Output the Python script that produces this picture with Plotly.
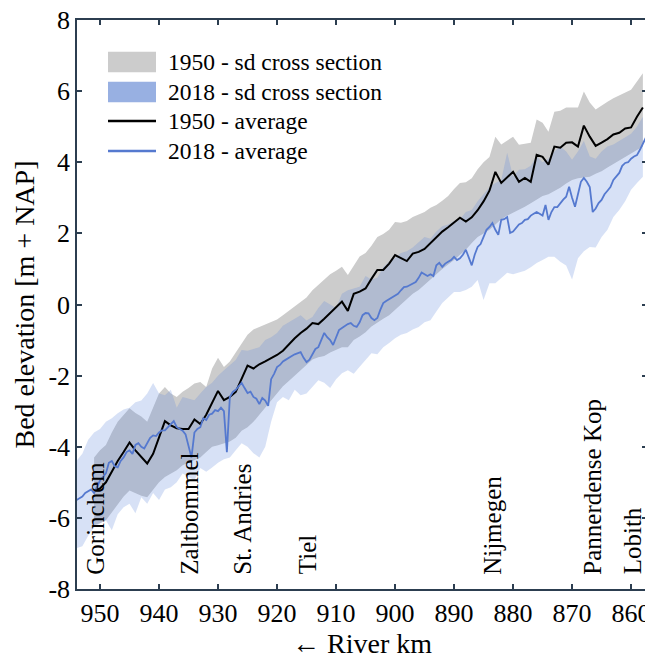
import plotly.graph_objects as go

# ---------------- data ----------------
# 1950 survey, 1 km stations from km 951 down to km 858
KM_1950 = list(range(951, 857, -1))
MEAN_1950 = [
    -5.25, -5.17, -5.0, -4.7, -4.4, -4.15, -3.88, -4.1, -4.3, -4.47,
    -4.2, -3.75, -3.28, -3.4, -3.48, -3.5, -3.5, -3.23, -3.36, -3.1,
    -2.75, -2.43, -2.69, -2.6, -2.46, -2.1, -1.72, -1.8, -1.68, -1.6,
    -1.52, -1.42, -1.3, -1.12, -0.95, -0.8, -0.68, -0.52, -0.55, -0.4,
    -0.24, -0.1, 0.08, -0.18, 0.3, 0.36, 0.45, 0.72, 0.97, 0.97,
    1.15, 1.39, 1.3, 1.22, 1.43, 1.48, 1.56, 1.72, 1.9, 2.05,
    2.17, 2.3, 2.44, 2.33, 2.45, 2.65, 2.9, 3.2, 3.73, 3.42,
    3.58, 3.73, 3.45, 3.56, 3.45, 4.21, 4.15, 3.93, 4.44, 4.41,
    4.55, 4.56, 4.44, 5.03, 4.72, 4.46, 4.55, 4.65, 4.78, 4.83,
    4.95, 4.98, 5.28, 5.54,
]
UPPER_1950 = [
    -4.3, -4.1, -3.95, -3.6, -3.3, -3.1, -2.92, -3.05, -3.15, -3.3,
    -2.9, -2.5, -2.32, -2.5, -2.6, -2.45, -2.35, -2.22, -2.18, -2.32,
    -1.8, -1.5, -1.76, -1.6, -1.35, -1.1, -0.85, -0.7, -0.63, -0.55,
    -0.48, -0.42, -0.3, -0.18, -0.05, 0.08, 0.2, 0.4, 0.55, 0.72,
    0.85, 0.95, 1.06, 0.83, 1.1, 1.35, 1.45, 1.65, 1.9, 1.98,
    2.1, 2.32, 2.3, 2.35, 2.46, 2.52, 2.6, 2.72, 2.8, 2.92,
    3.05, 3.25, 3.42, 3.44, 3.55, 3.8, 4.0, 4.15, 4.72, 4.5,
    4.6, 4.72, 4.49, 4.52, 4.55, 5.2, 5.11, 4.86, 5.42, 5.45,
    5.54, 5.54, 5.54, 5.99, 5.68, 5.48, 5.6, 5.7, 5.8, 5.88,
    5.98, 6.04, 6.27, 6.5,
]
LOWER_1950 = [
    -6.2, -6.15, -6.07, -5.85, -5.6, -5.4, -5.23, -5.3, -5.38, -5.42,
    -5.2, -5.0, -4.85, -4.75, -4.66, -4.52, -4.45, -4.38, -4.3, -4.15,
    -4.0, -3.96, -3.9, -3.85, -3.75, -3.55, -3.45, -3.3, -3.1, -2.9,
    -2.7, -2.5, -2.3, -2.15, -2.0, -1.85, -1.7, -1.55, -1.48, -1.45,
    -1.35, -1.28, -1.2, -1.2, -1.0, -0.9, -0.78, -0.62, -0.5, -0.4,
    -0.3, -0.15, 0.0, 0.13, 0.3, 0.41, 0.55, 0.7, 0.85, 1.0,
    1.12, 1.25, 1.4, 1.54, 1.73, 1.9, 2.0, 2.1, 2.25, 2.4,
    2.5, 2.58, 2.65, 2.75, 2.85, 2.94, 3.05, 3.1, 3.18, 3.28,
    3.4, 3.5, 3.55, 3.57, 3.59, 3.68, 3.75, 3.85, 3.95, 4.05,
    4.15, 4.25, 4.35, 4.44,
]

# 2018 survey average, 0.5 km stations from km 954 down to km 857.5
KM_2018 = [954 - 0.5 * i for i in range(194)]
MEAN_2018 = [
    -5.5, -5.45, -5.4, -5.3, -5.25, -5.2, -5.3, -5.1, -4.95, -4.85,
    -4.75, -4.45, -4.4, -4.55, -4.58, -4.4, -4.3, -4.15, -4.1, -4.2,
    -3.95, -3.9, -4.0, -4.05, -3.9, -3.75, -3.68, -3.7, -3.6, -3.54,
    -3.54, -3.45, -3.35, -3.28, -3.45, -3.5, -3.55, -3.65, -4.0, -4.3,
    -3.6, -3.5, -3.45, -3.2, -3.25, -3.1, -3.07, -2.97, -3.0, -2.9,
    -3.0, -4.15, -2.6, -2.46, -2.4, -2.3, -2.2, -2.35, -2.49, -2.45,
    -2.6, -2.65, -2.8, -2.63, -2.7, -2.85, -2.1, -1.95, -1.76, -1.7,
    -1.6, -1.55, -1.51, -1.45, -1.4, -1.37, -1.34, -1.5, -1.62, -1.55,
    -1.4, -1.25, -1.2, -1.0, -0.8, -0.92, -1.0, -1.14, -0.9, -0.72,
    -0.66, -0.6, -0.55, -0.52, -0.6, -0.63, -0.5, -0.3, -0.24, -0.25,
    -0.38, -0.44, -0.38, -0.15, 0.04, 0.1, 0.15, 0.22, 0.27, 0.3,
    0.4, 0.49, 0.5, 0.55, 0.6, 0.63, 0.75, 0.9, 0.85, 0.8,
    0.85, 0.8, 1.1, 1.17, 1.06, 1.15, 1.2, 1.25, 1.34, 1.25,
    1.3, 1.4, 1.54, 1.3, 1.1, 1.4, 1.62, 1.7, 1.9, 2.1,
    2.18, 2.29, 2.1, 1.96, 2.38, 2.4, 2.46, 2.01, 2.05, 2.15,
    2.25, 2.29, 2.38, 2.4, 2.5, 2.55, 2.6, 2.55, 2.5, 2.8,
    2.38, 2.6, 2.74, 2.74, 2.85, 2.95, 3.03, 3.31, 3.0, 2.75,
    3.1, 3.45, 3.56, 3.45, 3.3, 2.6, 2.7, 2.85, 2.94, 3.1,
    3.2, 3.3, 3.5, 3.59, 3.7, 3.9, 3.98, 4.0, 4.1, 4.16,
    4.2, 4.35, 4.5, 4.69,
]

# 2018 sd band, 1 km stations from km 954 down to km 858
KM_2018_SD = list(range(954, 857, -1))
UPPER_2018 = [
    -4.4, -4.2, -3.8, -3.6, -3.5, -3.3, -3.2, -3.06, -2.95, -2.9,
    -2.75, -2.7, -2.5, -2.21, -2.5, -2.55, -2.4, -2.9, -2.6, -2.65,
    -2.69, -2.5, -2.32, -2.2, -2.0, -1.85, -1.7, -1.56, -1.28, -1.3,
    -1.25, -1.2, -1.0, -0.92, -0.8, -0.6, -0.5, -0.4, -0.3, -0.45,
    -0.35, -0.1, 0.1, 0.0, -0.1, 0.3, 0.4, 0.45, 0.5, 0.8,
    0.7, 0.75, 1.05, 1.2, 1.3, 1.45, 1.5, 1.6, 1.75, 1.9,
    1.85, 2.05, 2.2, 2.25, 2.35, 2.4, 2.6, 2.66, 2.9, 3.1,
    3.3, 3.42, 3.5, 4.27, 3.6, 3.79, 3.8, 3.9, 4.16, 4.0,
    4.1, 4.3, 4.44, 4.3, 4.07, 4.3, 4.6, 4.16, 4.1, 4.3,
    4.44, 4.5, 4.6, 4.72, 4.8, 5.0, 5.28,
]
LOWER_2018 = [
    -6.85, -6.8, -6.5, -6.27, -6.15, -6.07, -6.35, -5.9, -5.7, -5.6,
    -5.87, -5.42, -5.6, -5.3, -5.5, -5.2, -5.14, -5.0, -4.75, -4.85,
    -4.94, -4.6, -4.7, -4.58, -4.45, -4.35, -4.3, -4.1, -3.9, -4.0,
    -4.18, -4.3, -4.0, -3.3, -2.75, -2.6, -2.69, -2.4, -2.55, -2.5,
    -2.3, -2.13, -2.2, -2.35, -2.1, -1.93, -1.85, -1.95, -1.75, -1.56,
    -1.37, -1.4, -1.2, -1.08, -0.95, -0.85, -0.8, -0.7, -0.63, -0.5,
    -0.44, -0.2, 0.04, 0.2, 0.35, 0.35, 0.41, 0.5, 0.69, 0.13,
    0.6, 0.6, 0.75, 0.89, 0.85, 0.89, 0.95, 1.05, 1.17, 1.25,
    1.34, 1.34, 1.2, 1.1, 0.7, 1.3, 1.5, 1.62, 1.6, 1.9,
    2.1, 2.46, 2.66, 2.9, 3.23, 3.42, 3.59,
]

PLACES = ["Gorinchem", "Zaltbommel", "St. Andries", "Tiel",
          "Nijmegen", "Pannerdense Kop", "Lobith"]
PLACE_KM = [950.9, 934.9, 926.0, 914.9, 883.6, 866.6, 859.8]

LEGEND_LABELS = ["1950 - sd cross section", "2018 - sd cross section",
                 "1950 - average", "2018 - average"]

X_TICKS = [950, 940, 930, 920, 910, 900, 890, 880, 870, 860]
Y_TICKS = [-8, -6, -4, -2, 0, 2, 4, 6, 8]
Y_TICK_TEXT = ["-8", "-6", "-4", "-2", "0", "2", "4", "6", "8"]

# ---------------- style ----------------
FONT = "Liberation Serif"
AXIS_COLOR = "#2c3e50"
GRAY_FILL = "#cccccc"
BLUE_FILL = "rgba(95,135,220,0.25)"
BLUE_SWATCH = "#98b0e2"
BLUE_LINE = "#5579cf"

fig = go.Figure()

fig.add_trace(go.Scatter(x=KM_1950, y=LOWER_1950, mode="lines",
                         line=dict(width=0, color=GRAY_FILL),
                         showlegend=False, hoverinfo="skip"))
fig.add_trace(go.Scatter(x=KM_1950, y=UPPER_1950, mode="lines",
                         line=dict(width=0, color=GRAY_FILL),
                         fill="tonexty", fillcolor=GRAY_FILL,
                         name=LEGEND_LABELS[0], showlegend=False))
fig.add_trace(go.Scatter(x=KM_2018_SD, y=LOWER_2018, mode="lines",
                         line=dict(width=0, color=BLUE_FILL),
                         showlegend=False, hoverinfo="skip"))
fig.add_trace(go.Scatter(x=KM_2018_SD, y=UPPER_2018, mode="lines",
                         line=dict(width=0, color=BLUE_FILL),
                         fill="tonexty", fillcolor=BLUE_FILL,
                         name=LEGEND_LABELS[1], showlegend=False))
fig.add_trace(go.Scatter(x=KM_1950, y=MEAN_1950, mode="lines",
                         line=dict(width=2, color="black"),
                         name=LEGEND_LABELS[2], showlegend=False))
fig.add_trace(go.Scatter(x=KM_2018, y=MEAN_2018, mode="lines",
                         line=dict(width=1.8, color=BLUE_LINE),
                         name=LEGEND_LABELS[3], showlegend=False))

# place labels along the river
for name, km in zip(PLACES, PLACE_KM):
    fig.add_annotation(x=km, y=-7.65, text=name, textangle=-90,
                       xanchor="center", yanchor="bottom", showarrow=False,
                       font=dict(family=FONT, size=25, color="black"))

# legend drawn in paper coordinates (swatch 48 px wide, rows 30 px apart)
SW_X0, SW_X1, TXT_X = 0.0544, 0.1386, 0.1561
ROW_Y = [0.9262, 0.8735, 0.8225, 0.7698]
SW_HALF = 0.0180
fig.add_shape(type="rect", xref="paper", yref="paper",
              x0=SW_X0, x1=SW_X1, y0=ROW_Y[0] - SW_HALF, y1=ROW_Y[0] + SW_HALF,
              fillcolor=GRAY_FILL, line=dict(width=0))
fig.add_shape(type="rect", xref="paper", yref="paper",
              x0=SW_X0, x1=SW_X1, y0=ROW_Y[1] - SW_HALF, y1=ROW_Y[1] + SW_HALF,
              fillcolor=BLUE_SWATCH, line=dict(width=0))
fig.add_shape(type="line", xref="paper", yref="paper",
              x0=SW_X0, x1=SW_X1, y0=ROW_Y[2], y1=ROW_Y[2],
              line=dict(color="black", width=2.5))
fig.add_shape(type="line", xref="paper", yref="paper",
              x0=SW_X0, x1=SW_X1, y0=ROW_Y[3], y1=ROW_Y[3],
              line=dict(color=BLUE_LINE, width=2.5))
for label, ry in zip(LEGEND_LABELS, ROW_Y):
    fig.add_annotation(xref="paper", yref="paper", x=TXT_X, y=ry, text=label,
                       xanchor="left", yanchor="middle", showarrow=False,
                       font=dict(family=FONT, size=23.5, color="black"))

axis_common = dict(showline=True, linecolor=AXIS_COLOR, linewidth=1.5,
                   mirror="ticks", ticks="inside", ticklen=5, tickwidth=1.5,
                   tickcolor=AXIS_COLOR, showgrid=False, zeroline=False,
                   ticklabeloverflow="allow",
                   tickfont=dict(family=FONT, size=26, color="black"))

# the page body adds an 8 px margin, so the figure is 8 px smaller each way
fig.update_layout(
    width=645, height=651,
    margin=dict(l=69, r=6, t=12, b=70),
    paper_bgcolor="white", plot_bgcolor="white",
    font=dict(family=FONT, color="black"),
    xaxis=dict(range=[953.9, 857.3], tickvals=X_TICKS, automargin="bottom",
               title=dict(text="\u2190 River km", font=dict(family=FONT, size=28),
                          standoff=2),
               **axis_common),
    yaxis=dict(range=[-8, 8], tickvals=Y_TICKS, ticktext=Y_TICK_TEXT,
               automargin="left",
               title=dict(text="Bed elevation [m + NAP]", font=dict(family=FONT, size=28),
                          standoff=6),
               **axis_common),
    showlegend=False,
)

fig.write_html("out.html")
